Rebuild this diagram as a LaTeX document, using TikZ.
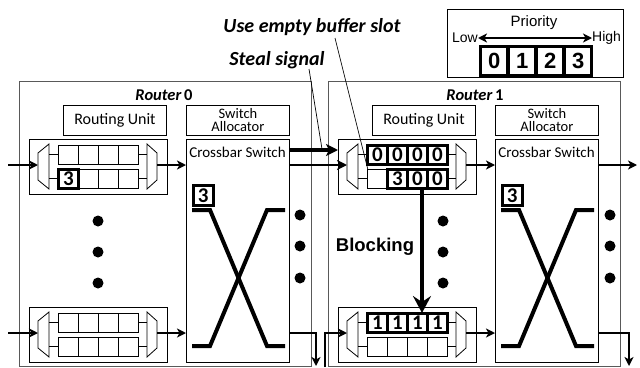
\documentclass[tikz,border=0pt]{standalone}
\usepackage{fontspec}
\setmainfont{Carlito}
\newfontfamily\arialf{Liberation Sans}
\usetikzlibrary{arrows.meta}
\newcommand\fs[1]{\fontsize{#1}{#1}\selectfont}

\tikzset{
 rbox/.style={draw=black!65, line width=1.3pt, anchor=north west, inner sep=0pt, minimum width=292pt, minimum height=285pt},
 box/.style={draw, line width=0.9pt, anchor=north west, inner sep=0pt},
 cell/.style={draw, line width=0.8pt, anchor=north west, inner sep=0pt, minimum width=20pt, minimum height=19pt},
 fcell/.style={draw, line width=2.2pt, inner sep=0pt, minimum width=20pt, minimum height=19pt, font=\bfseries\fs{21}},
 mux/.style={draw, fill=white, line width=0.8pt},
 xline/.style={line width=4pt, line join=miter},
 dot/.style={circle, fill, inner sep=0pt, minimum size=11pt},
 arr/.style={-{Stealth[length=9pt,width=9pt,inset=2.5pt]}, line width=1.8pt},
 arrb/.style={-{Stealth[length=10pt,width=10pt,inset=2.5pt]}, line width=2.4pt},
 steal/.style={-{Stealth[length=12pt,width=12pt,inset=3pt]}, line width=3.4pt},
 block/.style={-{Stealth[length=17pt,width=18pt,inset=6pt]}, line width=4.5pt},
 lead/.style={line width=0.7pt},
 pbox/.style={draw, line width=2.4pt, anchor=north west, inner sep=0pt, minimum width=28pt, minimum height=30pt, font=\arialf\bfseries\fs{22}},
}

\newcommand\inunit[3]{%
 \node[box, minimum width=138pt, minimum height=55pt] (#1) at (#2,#3) {};
 \foreach \c in {0,1,2,3}{%
  \node[cell] (#1-a\c) at ({#2+29+20*\c},{#3+6}) {};
  \node[cell] (#1-b\c) at ({#2+29+20*\c},{#3+30}) {};
 }
 \draw[mux] (#2+9,#3+14) -- (#2+20,#3+5) -- (#2+20,#3+50) -- (#2+9,#3+41) -- cycle;
 \draw[mux] (#2+118,#3+5) -- (#2+128,#3+14) -- (#2+128,#3+41) -- (#2+118,#3+50) -- cycle;
 \draw[line width=0.8pt] (#2+20,#3+15.5) -- (#2+29,#3+15.5) (#2+20,#3+39.5) -- (#2+29,#3+39.5)
   (#2+109,#3+15.5) -- (#2+118,#3+15.5) (#2+109,#3+39.5) -- (#2+118,#3+39.5);
 \coordinate (#1-in) at (#2+9,#3+26);
 \coordinate (#1-out) at (#2+128,#3+26);
}
\newcommand\xbar[3]{%
 \node[box, minimum width=103pt, minimum height=223pt] (#1) at (#2,#3) {};
 \node[font=\fs{15}] (#1-lab) at (#2+51.5,#3+13) {Crossbar Switch};
 \node[fcell, anchor=north west, line width=2.6pt, minimum height=20pt] (#1-3) at (#2+6,#3+45) {3};
 \draw[xline] (#2+6,#3+71) -- (#2+24,#3+71) -- (#2+81,#3+207) -- (#2+99,#3+207);
 \draw[xline] (#2+6,#3+207) -- (#2+24,#3+207) -- (#2+81,#3+71) -- (#2+99,#3+71);
}
\newcommand\setcell[2]{\node[fcell] (#1-f) at (#1.center) {#2};}

\begin{document}
\begin{tikzpicture}[x=1pt,y=-1pt]
\useasboundingbox (0,0) rectangle (640,367);

% routers
\node[rbox] (r0) at (19,81) {};
\node[rbox] (r1) at (328,81) {};
\node[font=\fs{16.5}] (r0lab) at (164,95) {\bfseries\itshape Router\,\upshape 0};
\node[font=\fs{16.5}] (r1lab) at (475,95) {\bfseries\itshape Router\,\upshape 1};

% routing unit and switch allocator
\node[box, minimum width=103pt, minimum height=30pt, font=\fs{16}] (r0ru) at (63,105) {Routing Unit};
\node[box, minimum width=103pt, minimum height=30pt, font=\fs{16}] (r1ru) at (372,105) {Routing Unit};
\node[box, minimum width=103pt, minimum height=30pt, align=center, font=\fontsize{14.5}{13}\selectfont] (r0sa) at (186,105) {Switch\\Allocator};
\node[box, minimum width=103pt, minimum height=30pt, align=center, font=\fontsize{14.5}{13}\selectfont] (r1sa) at (495,105) {Switch\\Allocator};

% input units
\inunit{r0a}{29}{139}
\inunit{r0b}{29}{307}
\inunit{r1a}{338}{139}
\inunit{r1b}{338}{307}

\setcell{r0a-b0}{3}
\setcell{r1a-a0}{0}
\setcell{r1a-a1}{0}
\setcell{r1a-a2}{0}
\setcell{r1a-a3}{0}
\setcell{r1a-b1}{3}
\setcell{r1a-b2}{0}
\setcell{r1a-b3}{0}
\setcell{r1b-a0}{1}
\setcell{r1b-a1}{1}
\setcell{r1b-a2}{1}
\setcell{r1b-a3}{1}

% crossbars
\xbar{r0x}{186}{139}
\xbar{r1x}{495}{139}

% dots
\node[dot] (d1) at (98,221) {};
\node[dot] (d2) at (98,252) {};
\node[dot] (d3) at (98,283) {};
\node[dot] (d4) at (300,215) {};
\node[dot] (d5) at (300,246) {};
\node[dot] (d6) at (300,278) {};
\node[dot] (d7) at (443,221) {};
\node[dot] (d8) at (443,252) {};
\node[dot] (d9) at (443,283) {};
\node[dot] (d10) at (610,215) {};
\node[dot] (d11) at (610,246) {};
\node[dot] (d12) at (610,278) {};

% coordinates
\coordinate (inA) at (8,165);
\coordinate (inB) at (8,333);
\coordinate (r0xo1) at (289,150);
\coordinate (r1ai) at (338,150);
\coordinate (r0xo2) at (289,165);
\coordinate (r0xo3) at (289,333);
\coordinate (r0down) at (316,366);
\coordinate (r1up) at (325,367);
\coordinate (r1xo1) at (598,165);
\coordinate (r1out1) at (637,165);
\coordinate (r1xo3) at (598,333);
\coordinate (r1down) at (629,366);
\coordinate (blk) at (422,0);

% arrows
\draw[arr] (inA) -- (r0a-in);
\draw[arr] (inB) -- (r0b-in);
\draw[arr] (r0a-out) -- (r0a-out -| r0x.west);
\draw[arr] (r0b-out) -- (r0b-out -| r0x.west);
\draw[arr] (r1a-out) -- (r1a-out -| r1x.west);
\draw[arr] (r1b-out) -- (r1b-out -| r1x.west);
\draw[steal] (r0xo1) -- (r1ai);
\draw[arrb] (r0xo2) -- (r1a-in);
\draw[arr] (r0xo3) -| (r0down);
\draw[arr] (r1up) |- (r1b-in);
\draw[arr] (r1xo1) -- (r1out1);
\draw[arr] (r1xo3) -| (r1down);
\draw[block] (r1a-b2.south -| blk) -- (r1b-a2.north -| blk);
\node[font=\arialf\bfseries\fs{18.5}] (blocking) at (375,247) {Blocking};

% labels with leaders
\node[font=\bfseries\itshape\fs{20}] (steallab) at (277,60) {Steal signal};
\node[font=\bfseries\itshape\fs{20}] (uselab) at (312,27) {Use empty buffer slot};
\coordinate (s1) at (309,69);
\coordinate (s2) at (322,149);
\coordinate (u1) at (335,38);
\coordinate (u2) at (368,170);
\draw[lead] (s1) -- (s2);
\draw[lead] (u1) -- (u2);

% priority legend
\node[draw, line width=1.2pt, anchor=north west, minimum width=176pt, minimum height=68pt] (prio) at (447,9) {};
\node[font=\arialf\fs{15}] (priolab) at (534,23) {Priority};
\node[font=\arialf\fs{14}, anchor=east, inner sep=0pt] (low) at (478,38) {Low};
\node[font=\arialf\fs{14}, anchor=west, inner sep=0pt] (high) at (592,38) {High};
\draw[{Stealth[length=9pt,width=9pt,inset=2.5pt]}-{Stealth[length=9pt,width=9pt,inset=2.5pt]}, line width=1.8pt] (low) -- (high);
\foreach \i/\x in {0/479,1/507,2/535,3/563}{
  \node[pbox] (p\i) at (\x,45) {\i};
  \draw[line width=0.7pt] ([shift={(2.6pt,-2.6pt)}]p\i.north west) rectangle ([shift={(-2.6pt,2.6pt)}]p\i.south east);
}
\end{tikzpicture}
\end{document}
